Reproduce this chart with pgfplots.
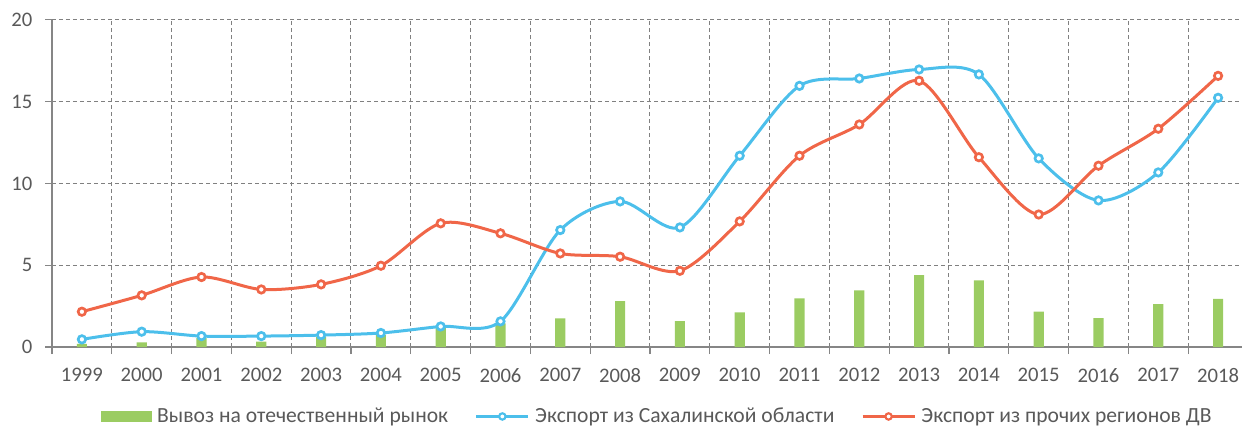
\documentclass[border=0pt]{standalone}
\usepackage{pgfplots}
\pgfplotsset{compat=1.18}
\usepackage{fontspec}
\setmainfont{Carlito}
\definecolor{barG}{RGB}{155,204,98}
\definecolor{blueC}{RGB}{76,191,235}
\definecolor{oranC}{RGB}{240,102,72}
\definecolor{txtG}{RGB}{89,89,89}
\definecolor{axG}{RGB}{134,134,134}
\definecolor{gridG}{RGB}{128,128,128}
\begin{document}
\begin{tikzpicture}
\begin{axis}[
  name=ax,
  scale only axis,
  width=892.5pt, height=245.5pt,
  xmin=-0.5, xmax=19.4,
  ymin=0, ymax=20,
  axis x line*=bottom, axis y line*=left,
  axis line style={axG, line width=1pt},
  ytick={0,5,10,15,20},
  xtick={-0.5,0.5,...,18.5},
  xticklabels={},
  extra x ticks={0,1,...,19},
  extra x tick labels={1999,2000,2001,2002,2003,2004,2005,2006,2007,2008,2009,2010,2011,2012,2013,2014,2015,2016,2017,2018},
  extra x tick style={grid=none, tick style={draw=none}},
  xmajorgrids, ymajorgrids,
  major grid style={gridG, dashed, line width=0.75pt, dash pattern=on 3pt off 2.25pt},
  tick align=outside,
  major tick length=5.25pt,
  tick style={axG, line width=1pt},
  /pgf/number format/assume math mode=true,
  tick label style={font=\fontsize{15.5}{18}\selectfont, text=txtG},
  x tick label style={yshift=-7pt},
  y tick label style={xshift=-6pt},
  legend columns=3,
  legend style={at={(0.509,-0.212)}, anchor=center, draw=none, fill=none,
    font=\fontsize{16.2}{19}\selectfont, text=txtG,
    /tikz/every even column/.append style={column sep=18pt},
    /tikz/every odd column/.append style={column sep=2pt},
    nodes={inner sep=2pt}},
]
\addplot[ybar, bar width=0.17, fill=barG, draw=none,
  legend image code/.code={\fill[barG] (0pt,-4.2pt) rectangle (38pt,4.2pt);}]
  coordinates {(0,0.2) (1,0.29) (2,0.55) (3,0.33) (4,0.6) (5,0.75) (6,1.15) (7,1.45) (8,1.75) (9,2.81) (10,1.59) (11,2.12) (12,2.97) (13,3.46) (14,4.4) (15,4.07) (16,2.16) (17,1.77) (18,2.63) (19,2.95)};
\addlegendentry{Вывоз на отечественный рынок}
\addplot[blueC, line width=2.25pt, smooth, mark=*, mark size=2.8pt,
  mark options={fill=white, draw=blueC, line width=2pt},
  legend image code/.code={\draw[blueC, line width=2.25pt] (0pt,0pt) -- (39pt,0pt); \draw[blueC, fill=white, line width=1.6pt] (19.5pt,0pt) circle (2.4pt);}]
  coordinates {(0,0.47) (1,0.94) (2,0.67) (3,0.67) (4,0.73) (5,0.86) (6,1.26) (7,1.57) (8,7.15) (9,8.9) (10,7.31) (11,11.69) (12,15.96) (13,16.41) (14,16.96) (15,16.66) (16,11.53) (17,8.96) (18,10.67) (19,15.23)};
\addlegendentry{Экспорт из Сахалинской области}
\addplot[oranC, line width=2.25pt, smooth, mark=*, mark size=2.8pt,
  mark options={fill=white, draw=oranC, line width=2pt},
  legend image code/.code={\draw[oranC, line width=2.25pt] (0pt,0pt) -- (39pt,0pt); \draw[oranC, fill=white, line width=1.6pt] (19.5pt,0pt) circle (2.4pt);}]
  coordinates {(0,2.16) (1,3.16) (2,4.28) (3,3.52) (4,3.83) (5,4.97) (6,7.56) (7,6.95) (8,5.72) (9,5.52) (10,4.66) (11,7.68) (12,11.69) (13,13.6) (14,16.27) (15,11.6) (16,8.1) (17,11.08) (18,13.34) (19,16.57)};
\addlegendentry{Экспорт из прочих регионов ДВ}
\end{axis}
\pgfresetboundingbox
\path ([shift={(-39pt,-60pt)}]ax.south west) rectangle ([shift={(0pt,14.8pt)}]ax.north east);
\end{tikzpicture}
\end{document}
